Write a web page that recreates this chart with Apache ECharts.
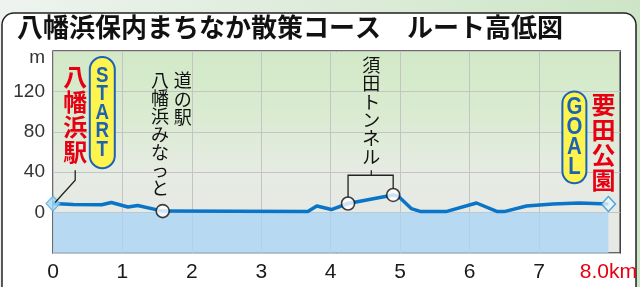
<!DOCTYPE html>
<html>
<head>
<meta charset="utf-8">
<script src="https://cdn.jsdelivr.net/npm/echarts@6/dist/echarts.min.js"></script>
<style>
html,body{margin:0;padding:0;}
#main{width:640px;height:287px;}
</style>
</head>
<body>
<div id="main"></div>
<script>
// route profile (km, m)
var dist = [0, 0.29, 0.7, 0.84, 1.08, 1.22, 1.58, 3.67, 3.8, 4.01, 4.25, 4.9, 4.97, 5.16, 5.3, 5.66, 6.1, 6.4, 6.5, 6.82, 7.2, 7.58, 8.0];
var elev = [9, 8, 7.7, 10, 5.5, 7, 1.5, 1, 6.5, 3, 9, 17.5, 16.5, 4, 1, 1, 9.5, 1, 1, 6.5, 8.5, 9.5, 8.5];
// points with white circles: 道の駅, tunnel entrance, tunnel exit
var stopIdx = [6, 10, 11];
var yTicks = [0, 40, 80, 120];
var yUnit = 'm';
var xEndLabel = '8.0km';

var FONT_JP = '"Noto Sans CJK JP"';
var SANS = '"Liberation Sans", sans-serif';

var myChart = echarts.init(document.getElementById('main'));

var profile = dist.map(function (d, i) { return [d, elev[i]]; });
var stops = stopIdx.map(function (i) { return [dist[i], elev[i]]; });
var last = dist.length - 1;

var xColors = [];
for (var k = 0; k < 8; k++) xColors.push('#c4c4c4');
xColors.push('rgba(0,0,0,0)', 'rgba(0,0,0,0)');

var option = {
    backgroundColor: {
        type: 'linear', x: 0, y: 0, x2: 1, y2: 0,
        colorStops: [{offset: 0, color: '#eef3ef'}, {offset: 1, color: '#cde5c6'}]
    },
    animation: false,
    title: {
        text: '八幡浜保内まちなか散策コース　ルート高低図',
        left: 12,
        top: 9,
        textStyle: {
            fontFamily: FONT_JP,
            fontSize: 26,
            fontWeight: 'bold',
            color: '#111'
        }
    },
    grid: {
        left: 53, right: 19, top: 51, bottom: 34,
        show: true,
        borderColor: '#3c3c3c',
        borderWidth: 1.5,
        backgroundColor: {
            type: 'linear', x: 0, y: 0, x2: 0, y2: 1,
            colorStops: [
                {offset: 0, color: '#d2e9c7'},
                {offset: 0.3, color: '#d9ebd0'},
                {offset: 0.6, color: '#e6ebe3'},
                {offset: 1, color: '#e7e8e5'}
            ]
        }
    },
    xAxis: {
        type: 'value',
        min: 0,
        max: 8.17,
        interval: 1,
        axisLine: {show: false},
        axisTick: {show: false},
        splitLine: {lineStyle: {color: xColors, width: 1}},
        axisLabel: {
            margin: 9,
            fontFamily: SANS,
            fontSize: 21,
            color: '#1a1a1a',
            formatter: function (v) {
                if (v === 8) return '{r|' + xEndLabel + '}';
                return Number.isInteger(v) ? String(v) : '';
            },
            rich: {r: {color: '#e60012', fontFamily: SANS, fontSize: 21}}
        }
    },
    yAxis: {
        type: 'value',
        min: -40,
        max: 160,
        interval: 40,
        axisLine: {show: false},
        axisTick: {show: false},
        splitLine: {lineStyle: {color: '#c4c4c4', width: 1}},
        axisLabel: {
            margin: 8,
            fontFamily: SANS,
            fontSize: 19,
            color: '#333',
            formatter: function (v) {
                if (v === 160) return '{u|' + yUnit + '}';
                return yTicks.indexOf(v) >= 0 ? String(v) : '';
            },
            rich: {u: {fontFamily: SANS, fontSize: 19, color: '#333', padding: [14, 0, 0, 0]}}
        }
    },
    series: [
        {
            name: 'profile',
            type: 'line',
            data: profile,
            symbol: 'none',
            lineStyle: {color: '#0a74c6', width: 3.5, join: 'round'},
            z: 3,
            markArea: {
                silent: true,
                itemStyle: {color: 'rgba(169,213,246,0.78)'},
                data: [[{coord: [dist[0], -40]}, {coord: [dist[last], 0]}]]
            }
        },
        {
            name: 'stops',
            type: 'scatter',
            data: stops,
            symbol: 'circle',
            symbolSize: 13,
            itemStyle: {color: '#fff', borderColor: '#111', borderWidth: 1.6},
            z: 5
        },
        {
            name: 'start',
            type: 'scatter',
            data: [[dist[0], elev[0]]],
            symbol: 'diamond',
            symbolSize: [14, 15],
            itemStyle: {color: '#a3d8f5', borderColor: '#5aaee4', borderWidth: 1.2},
            z: 6
        },
        {
            name: 'goal',
            type: 'scatter',
            data: [[dist[last], elev[last]]],
            symbol: 'diamond',
            symbolSize: [14, 15],
            itemStyle: {color: '#eaf6fd', borderColor: '#2b8fd6', borderWidth: 1.5},
            z: 6
        }
    ]
};
myChart.setOption(option);

function px(km, m) {
    return myChart.convertToPixel({gridIndex: 0}, [km, m]);
}
function vtext(str, km, m, size, color, weight, lh) {
    var p = px(km, m);
    return {
        type: 'text', x: p[0], y: p[1], z: 20,
        style: {
            text: str.split('').join('\n'),
            fontFamily: FONT_JP,
            fontSize: size,
            fontWeight: weight || 'normal',
            lineHeight: lh,
            fill: color,
            align: 'center',
            verticalAlign: 'top'
        }
    };
}
function capsule(str, km, mTop, mBot, w, size, lh) {
    var a = px(km, mTop), b = px(km, mBot);
    var h = b[1] - a[1];
    return [
        {
            type: 'rect', z: 19,
            shape: {x: a[0] - w / 2, y: a[1], width: w, height: h, r: w / 2},
            style: {fill: '#fff34d', stroke: '#1c62b5', lineWidth: 2}
        },
        {
            type: 'text', x: a[0], y: a[1] + h / 2, z: 20, scaleX: 0.85,
            style: {
                text: str.split('').join('\n'),
                fontFamily: SANS, fontSize: size, fontWeight: 'bold',
                lineHeight: lh, fill: '#1c62b5', align: 'center', verticalAlign: 'middle'
            }
        }
    ];
}
function poly(points) {
    return {
        type: 'polyline', z: 18,
        shape: {points: points.map(function (q) { return px(q[0], q[1]); })},
        style: {stroke: '#222', lineWidth: 1.3, fill: null}
    };
}

var stA = stops[1], stB = stops[2];
var graphics = [
    {
        type: 'rect', z: -5,
        shape: {x: 2, y: 13, width: 634, height: 290, r: 12},
        style: {fill: '#fff', stroke: '#222', lineWidth: 1.5}
    },
    // 八幡浜駅
    vtext('八幡浜駅', 0.32, 147, 24, '#e60012', 'bold', 25),
    poly([[dist[0] + 0.03, elev[0] + 1], [0.32, 32], [0.32, 42]]),
    // 道の駅 八幡浜みなっと
    vtext('道の駅', 1.87, 140, 18, '#111', 'normal', 18.5),
    vtext('八幡浜みなっと', 1.54, 140, 18, '#111', 'normal', 18),
    // 須田トンネル
    vtext('須田トンネル', 4.585, 155, 18, '#111', 'normal', 18.3),
    poly([[stA[0], stA[1] + 6], [stA[0], 37], [stB[0], 37], [stB[0], stB[1] + 6]]),
    poly([[4.585, 37], [4.585, 42]]),
    // 要田公園
    vtext('要田公園', 7.93, 119, 24, '#e60012', 'bold', 25)
];
graphics = graphics.concat(capsule('START', 0.71, 154, 44, 25, 22, 18.5));
graphics = graphics.concat(capsule('GOAL', 7.51, 120, 29, 24, 24, 20));

myChart.setOption({graphic: graphics});
</script>
</body>
</html>
